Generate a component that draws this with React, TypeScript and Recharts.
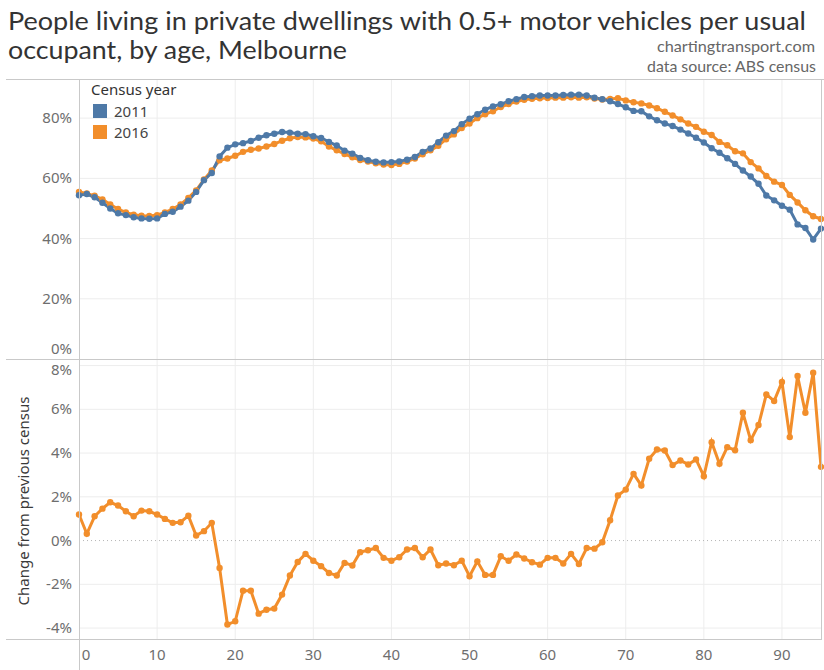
import React from "react";
import { LineChart, Line, XAxis, YAxis, CartesianGrid, ReferenceLine } from "recharts";

// ---------- data ----------
const ages = [
  0, 1, 2, 3, 4, 5, 6, 7, 8, 9, 10, 11, 12, 13, 14, 15, 16, 17, 18, 19,
  20, 21, 22, 23, 24, 25, 26, 27, 28, 29, 30, 31, 32, 33, 34, 35, 36, 37, 38, 39,
  40, 41, 42, 43, 44, 45, 46, 47, 48, 49, 50, 51, 52, 53, 54, 55, 56, 57, 58, 59,
  60, 61, 62, 63, 64, 65, 66, 67, 68, 69, 70, 71, 72, 73, 74, 75, 76, 77, 78, 79,
  80, 81, 82, 83, 84, 85, 86, 87, 88, 89, 90, 91, 92, 93, 94, 95,
];

const share2011 = [
  54.4, 54.8, 53.7, 51.9, 50.0, 48.4, 47.8, 47.1, 46.7, 46.6,
  46.7, 48.2, 48.9, 50.6, 52.6, 55.5, 59.4, 61.8, 67.3, 70.2,
  71.3, 71.7, 72.4, 73.5, 74.3, 74.8, 75.4, 75.2, 74.8, 74.7,
  74.0, 73.4, 72.1, 70.9, 69.2, 68.2, 66.8, 66.0, 65.5, 65.3,
  65.4, 65.6, 66.2, 67.1, 68.8, 69.9, 72.0, 74.2, 75.7, 78.0,
  79.8, 81.3, 82.8, 83.9, 84.6, 85.6, 86.3, 87.0, 87.3, 87.5,
  87.5, 87.5, 87.7, 87.8, 87.8, 87.5, 86.8, 86.3, 85.6, 84.7,
  83.6, 82.4, 82.3, 80.6, 79.3, 78.2, 77.4, 76.2, 74.9, 73.5,
  71.9, 70.0, 68.5, 66.7, 64.8, 62.6, 60.6, 58.2, 54.3, 52.7,
  50.9, 49.6, 44.7, 43.5, 39.7, 43.3,
];

const share2016 = [
  55.5, 55.0, 54.2, 53.0, 51.3, 49.8, 48.7, 47.9, 47.6, 47.5,
  47.8, 48.7, 49.8, 51.3, 53.5, 56.0, 59.6, 62.6, 66.0, 66.6,
  67.5, 68.8, 69.5, 69.9, 70.6, 71.4, 72.5, 73.3, 73.7, 73.6,
  73.2, 72.3, 70.6, 69.3, 68.1, 67.0, 66.1, 65.6, 65.0, 64.6,
  64.4, 64.8, 65.6, 66.6, 68.0, 69.3, 70.8, 73.0, 74.6, 76.7,
  78.2, 80.0, 81.3, 82.3, 83.7, 84.7, 85.5, 86.1, 86.4, 86.6,
  86.7, 86.8, 86.8, 86.9, 86.8, 86.9, 86.5, 86.2, 86.4, 86.6,
  85.9, 85.3, 84.9, 84.2, 83.3, 82.1, 80.9, 79.6, 78.2, 77.1,
  75.5, 74.4, 72.1, 71.0, 69.0, 68.3, 65.4, 63.3, 60.8, 58.9,
  57.8, 54.5, 52.0, 49.4, 47.4, 46.5,
];

const change = [
  1.19, 0.31, 1.11, 1.46, 1.75, 1.60, 1.34, 1.11, 1.37, 1.34,
  1.19, 0.99, 0.81, 0.84, 1.14, 0.23, 0.43, 0.81, -1.25, -3.84,
  -3.69, -2.29, -2.29, -3.34, -3.16, -3.11, -2.47, -1.60, -0.98, -0.61,
  -0.92, -1.17, -1.48, -1.60, -1.02, -1.14, -0.53, -0.44, -0.34, -0.79,
  -0.92, -0.76, -0.41, -0.34, -0.76, -0.41, -1.13, -1.05, -1.13, -0.92,
  -1.63, -0.95, -1.57, -1.57, -0.72, -0.92, -0.64, -0.82, -0.99, -1.10,
  -0.79, -0.79, -1.05, -0.61, -1.07, -0.34, -0.37, -0.08, 0.93, 2.06,
  2.33, 3.05, 2.52, 3.74, 4.16, 4.12, 3.45, 3.66, 3.48, 3.71,
  2.94, 4.50, 3.51, 4.27, 4.13, 5.84, 4.59, 5.28, 6.68, 6.38,
  7.25, 4.73, 7.52, 5.84, 7.67, 3.37,
];

const seriesNames = ["2011", "2016"];
const xTicks = [0, 10, 20, 30, 40, 50, 60, 70, 80, 90];
const topTicks = [0, 20, 40, 60, 80];
const bottomTicks = [-4, -2, 0, 2, 4, 6, 8];

const titleLines = [
  "People living in private dwellings with 0.5+ motor vehicles per usual",
  "occupant, by age, Melbourne",
];
const credits = ["chartingtransport.com", "data source: ABS census"];
const legendTitle = "Census year";
const changeLabel = "Change from previous census";

const data = ages.map((a, i) => ({
  age: a,
  y2011: share2011[i],
  y2016: share2016[i],
  change: change[i],
}));

// ---------- styles ----------
const BLUE = "#4e79a7";
const ORANGE = "#f28e2b";
const GRID = "#ededed";
const FRAME = "#c9c9c9";
const TICK_COLOR = "#6e6e6e";
const FONT = "'Noto Sans', sans-serif";

const YTick = (props: any) => {
  const { x, y, payload, shift } = props;
  const dy = shift && shift[payload.value] !== undefined ? shift[payload.value] : 0;
  return (
    <text
      x={x}
      y={y + dy}
      dy={5}
      textAnchor="end"
      fill={TICK_COLOR}
      fontSize={15}
      fontFamily={FONT}
    >
      {payload.value}%
    </text>
  );
};

const XTick = (props: any) => {
  const { x, y, payload } = props;
  const dx = payload.value === 0 ? 7 : 0;
  return (
    <text
      x={x + dx}
      y={y}
      dy={15}
      textAnchor="middle"
      fill={TICK_COLOR}
      fontSize={15}
      fontFamily={FONT}
    >
      {payload.value}
    </text>
  );
};

const ChangeLabel = (props: any) => {
  const vb = props.viewBox || { x: 0, y: 0, width: 79, height: 280 };
  const cx = vb.x + 25;
  const cy = vb.y + vb.height / 2 + 2;
  return (
    <text
      x={cx}
      y={cy}
      transform={`rotate(-90 ${cx} ${cy})`}
      textAnchor="middle"
      dominantBaseline="middle"
      fill="#3a3a3a"
      fontSize={15}
      fontFamily={FONT}
    >
      {changeLabel}
    </text>
  );
};

const hLine = (left: number, top: number, width: number) => (
  <div style={{ position: "absolute", left, top, width, height: 1, background: FRAME }} />
);
const vLine = (left: number, top: number, height: number) => (
  <div style={{ position: "absolute", left, top, width: 1, height, background: FRAME }} />
);

export default function App() {
  const colors = [BLUE, ORANGE];
  return (
    <div
      style={{
        position: "absolute",
        left: 0,
        top: 0,
        width: 824,
        height: 670,
        background: "#fff",
        overflow: "hidden",
        fontFamily: FONT,
      }}
    >
      {/* header */}
      <svg width={824} height={79} style={{ position: "absolute", left: 0, top: 0 }}>
        <text
          x={8}
          y={30}
          fontSize={25}
          fontFamily="Lato, sans-serif"
          fill="#333"
          textLength={798}
          lengthAdjust="spacingAndGlyphs"
        >
          {titleLines[0]}
        </text>
        <text
          x={8}
          y={59}
          fontSize={25}
          fontFamily="Lato, sans-serif"
          fill="#333"
          textLength={339}
          lengthAdjust="spacingAndGlyphs"
        >
          {titleLines[1]}
        </text>
        <text
          x={815}
          y={52}
          fontSize={16}
          fontFamily="Lato, sans-serif"
          fill="#666"
          textAnchor="end"
          textLength={158}
          lengthAdjust="spacingAndGlyphs"
        >
          {credits[0]}
        </text>
        <text
          x={816}
          y={72}
          fontSize={16}
          fontFamily="Lato, sans-serif"
          fill="#666"
          textAnchor="end"
          textLength={169}
          lengthAdjust="spacingAndGlyphs"
        >
          {credits[1]}
        </text>
      </svg>

      {/* top panel */}
      <div style={{ position: "absolute", left: 0, top: 79 }}>
        <LineChart width={824} height={280} data={data} margin={{ top: 0, right: 3, bottom: 0, left: 0 }}>
          <CartesianGrid
            stroke={GRID}
            strokeWidth={1}
            horizontalValues={[20, 40, 60, 80]}
            verticalValues={[10, 20, 30, 40, 50, 60, 70, 80, 90]}
          />
          <XAxis dataKey="age" type="number" domain={[0, 95]} ticks={xTicks} hide />
          <YAxis
            type="number"
            domain={[0, 93]}
            ticks={topTicks}
            width={79}
            axisLine={false}
            tickLine={false}
            tickSize={5}
            tickMargin={2}
            interval={0}
            tick={<YTick shift={{ 0: -10 }} />}
          />
          <Line
            dataKey="y2016"
            stroke={ORANGE}
            strokeWidth={3}
            dot={{ r: 3.2, fill: ORANGE, stroke: "none" }}
            activeDot={false}
            isAnimationActive={false}
          />
          <Line
            dataKey="y2011"
            stroke={BLUE}
            strokeWidth={3}
            dot={{ r: 3.2, fill: BLUE, stroke: "none" }}
            activeDot={false}
            isAnimationActive={false}
          />
        </LineChart>
      </div>

      {/* legend */}
      <div style={{ position: "absolute", left: 91, top: 80, fontFamily: FONT }}>
        <div style={{ fontSize: 15, color: "#333", lineHeight: "18px", marginBottom: 2 }}>{legendTitle}</div>
        {seriesNames.map((n, i) => (
          <div key={n} style={{ display: "flex", alignItems: "center", height: 21.5 }}>
            <div style={{ width: 14, height: 14, background: colors[i], marginLeft: 2, marginRight: 7 }} />
            <span style={{ fontSize: 15, color: "#444" }}>{n}</span>
          </div>
        ))}
      </div>

      {/* bottom panel */}
      <div style={{ position: "absolute", left: 0, top: 359 }}>
        <LineChart width={824} height={311} data={data} margin={{ top: 0, right: 3, bottom: 0, left: 0 }}>
          <CartesianGrid
            stroke={GRID}
            strokeWidth={1}
            horizontalValues={[-4, -2, 2, 4, 6, 8]}
            verticalValues={[10, 20, 30, 40, 50, 60, 70, 80, 90]}
          />
          <XAxis
            dataKey="age"
            type="number"
            domain={[0, 95]}
            ticks={xTicks}
            interval={0}
            height={31}
            axisLine={false}
            tickLine={false}
            tickSize={0}
            tickMargin={6}
            tick={<XTick />}
          />
          <YAxis
            type="number"
            domain={[-4.5, 8.3]}
            ticks={bottomTicks}
            width={79}
            axisLine={false}
            tickLine={false}
            tickSize={5}
            tickMargin={2}
            interval={0}
            allowDataOverflow
            tick={<YTick shift={{ 8: 4 }} />}
            label={<ChangeLabel />}
          />
          <ReferenceLine y={0} stroke="#b5b5b5" strokeDasharray="1 3" strokeWidth={1} />
          <Line
            dataKey="change"
            stroke={ORANGE}
            strokeWidth={3}
            dot={{ r: 3.2, fill: ORANGE, stroke: "none" }}
            activeDot={false}
            isAnimationActive={false}
          />
        </LineChart>
      </div>

      {/* frame lines */}
      {hLine(6, 79, 818)}
      {hLine(6, 359, 818)}
      {hLine(6, 639, 816)}
      {vLine(79, 79, 591)}
      {vLine(821, 79, 560)}
    </div>
  );
}
